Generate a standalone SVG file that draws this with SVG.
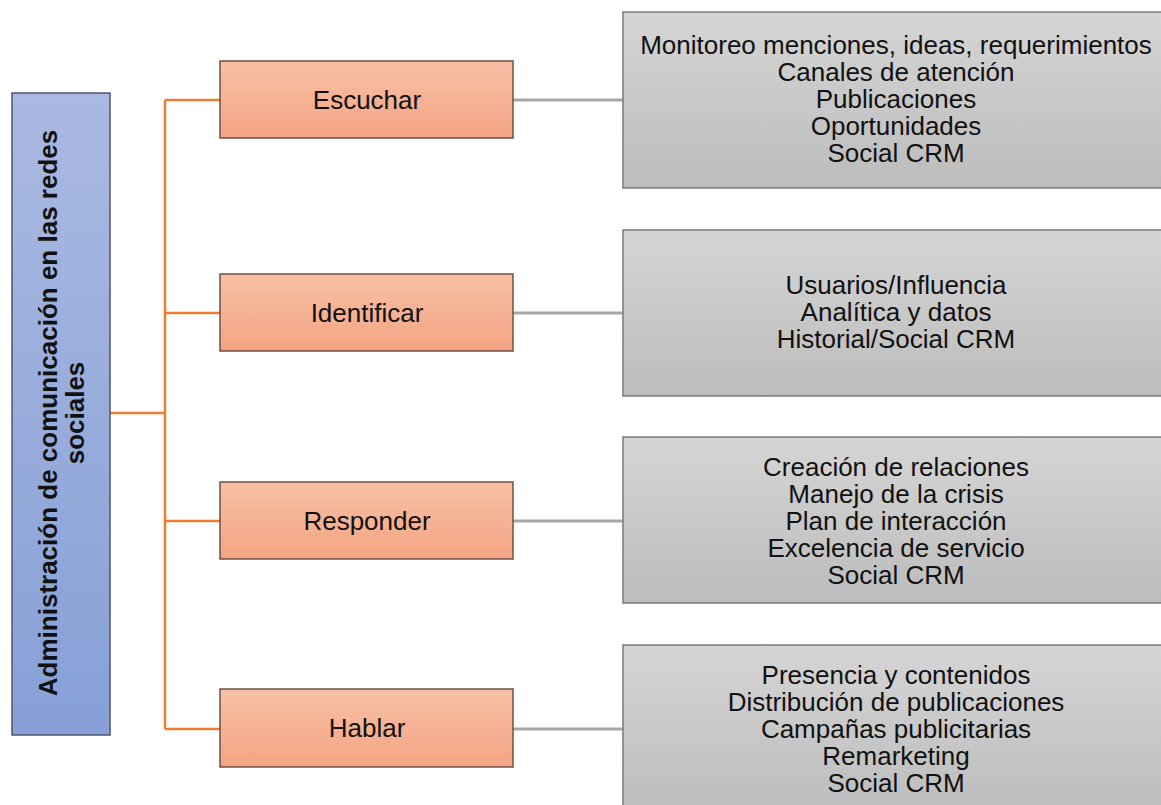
<svg xmlns="http://www.w3.org/2000/svg" width="1161" height="805" viewBox="0 0 1161 805">
<style>
text{font-family:"Liberation Sans",Arial,sans-serif;font-size:26px;fill:#111;}
.mid{text-anchor:middle;}
.root rect{fill:url(#gBlue);stroke:#50566a;stroke-width:1.5;}
.task rect{fill:url(#gOrange);stroke:#6a5148;stroke-width:1.5;}
.detail rect{fill:url(#gGray);stroke:#7a7a7a;stroke-width:1.5;}
.orange{stroke:#ED7D31;stroke-width:2.5;fill:none;}
.gray{stroke:#A6A6A6;stroke-width:3;fill:none;}
</style>
<defs>
<linearGradient id="gBlue" x1="0" y1="0" x2="0" y2="1"><stop offset="0" stop-color="#AAB9E1"/><stop offset="1" stop-color="#86A0D7"/></linearGradient>
<linearGradient id="gOrange" x1="0" y1="0" x2="0" y2="1"><stop offset="0" stop-color="#F7C0A6"/><stop offset="1" stop-color="#F4A482"/></linearGradient>
<linearGradient id="gGray" x1="0" y1="0" x2="0" y2="1"><stop offset="0" stop-color="#D5D5D5"/><stop offset="1" stop-color="#BCBCBC"/></linearGradient>
</defs>
<rect width="1161" height="805" fill="#fff"/>
<g id="connectors">
<path class="orange" d="M110 413H165M165 100V729M165 100H220M165 313H220M165 521H220M165 729H220"/>
<path class="gray" d="M513 100H623M513 313H623M513 521H623M513 729H623"/>
</g>
<g id="root" class="root">
<rect x="12" y="93" width="98" height="642"/>
<text class="mid" font-weight="bold" transform="translate(57,413) rotate(-90)" style="font-weight:bold">Administración de comunicación en las redes</text>
<text class="mid" transform="translate(84,413) rotate(-90)" style="font-weight:bold">sociales</text>
</g>
<g id="escuchar" class="task"><rect x="220" y="61" width="293" height="77"/><text class="mid" x="367" y="109">Escuchar</text></g>
<g id="identificar" class="task"><rect x="220" y="274" width="293" height="77"/><text class="mid" x="367" y="322">Identificar</text></g>
<g id="responder" class="task"><rect x="220" y="482" width="293" height="77"/><text class="mid" x="367" y="530">Responder</text></g>
<g id="hablar" class="task"><rect x="220" y="689" width="293" height="78"/><text class="mid" x="367" y="737">Hablar</text></g>
<g id="det-escuchar" class="detail"><rect x="623" y="12" width="545" height="176"/>
<text class="mid" x="896"><tspan x="896" y="54">Monitoreo menciones, ideas, requerimientos</tspan><tspan x="896" y="81">Canales de atención</tspan><tspan x="896" y="108">Publicaciones</tspan><tspan x="896" y="135">Oportunidades</tspan><tspan x="896" y="162">Social CRM</tspan></text></g>
<g id="det-identificar" class="detail"><rect x="623" y="230" width="545" height="166"/>
<text class="mid"><tspan x="896" y="294">Usuarios/Influencia</tspan><tspan x="896" y="321">Analítica y datos</tspan><tspan x="896" y="348">Historial/Social CRM</tspan></text></g>
<g id="det-responder" class="detail"><rect x="623" y="437" width="545" height="166"/>
<text class="mid"><tspan x="896" y="476">Creación de relaciones</tspan><tspan x="896" y="503">Manejo de la crisis</tspan><tspan x="896" y="530">Plan de interacción</tspan><tspan x="896" y="557">Excelencia de servicio</tspan><tspan x="896" y="584">Social CRM</tspan></text></g>
<g id="det-hablar" class="detail"><rect x="623" y="645" width="545" height="170"/>
<text class="mid"><tspan x="896" y="684">Presencia y contenidos</tspan><tspan x="896" y="711">Distribución de publicaciones</tspan><tspan x="896" y="738">Campañas publicitarias</tspan><tspan x="896" y="765">Remarketing</tspan><tspan x="896" y="792">Social CRM</tspan></text></g>
</svg>
